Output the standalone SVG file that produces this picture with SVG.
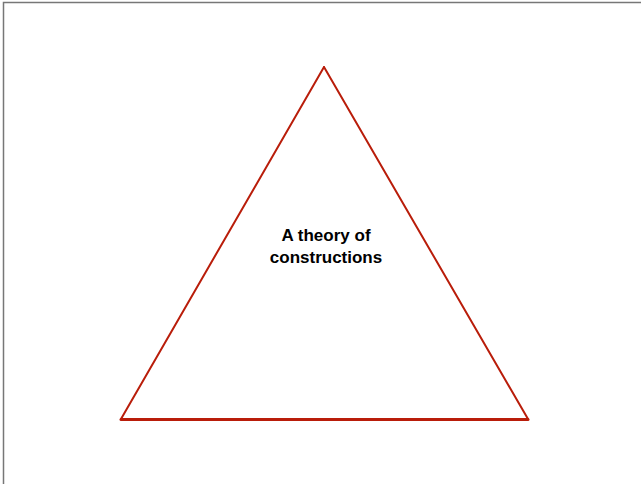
<svg xmlns="http://www.w3.org/2000/svg" width="641" height="484" viewBox="0 0 641 484">
<style>
.edge{stroke:#b91d0a;fill:none;stroke-linecap:round;stroke-linejoin:round}
.lbl{font-family:"Liberation Sans",Arial,sans-serif;font-weight:bold;font-size:17px;fill:#000;text-anchor:middle}
</style>
<rect x="0" y="0" width="641" height="484" fill="#fff"/>
<path d="M3.5,484 V2.5 H641" stroke="#777" stroke-width="1.5" fill="none"/>
<g id="connectors">
<line class="edge" x1="324" y1="67" x2="121" y2="419" stroke-width="2"/>
<line class="edge" x1="324" y1="67" x2="528" y2="419" stroke-width="2"/>
<line class="edge" x1="121" y1="419.5" x2="528" y2="419.5" stroke-width="3"/>
</g>
<g id="node-label">
<text class="lbl" x="326" y="241">A theory of</text>
<text class="lbl" x="326" y="263">constructions</text>
</g>
</svg>
